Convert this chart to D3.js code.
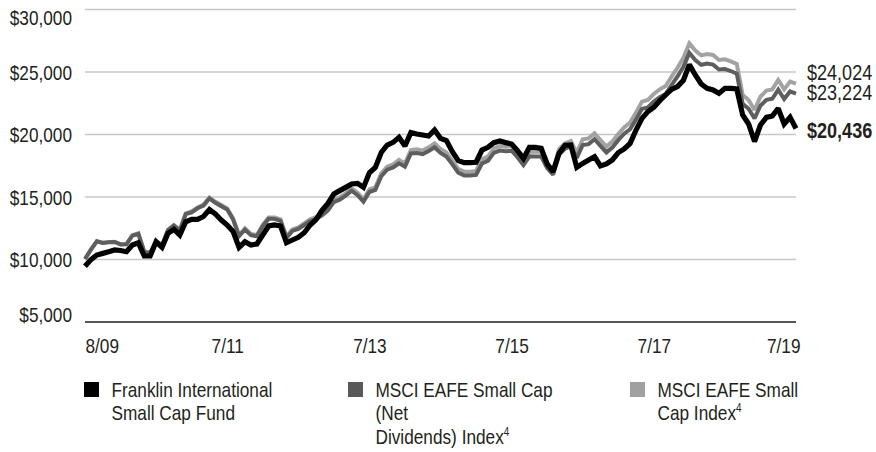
<!DOCTYPE html>
<html>
<head>
<meta charset="utf-8">
<script src="https://cdn.jsdelivr.net/npm/d3@7"></script>
<style>
  body { margin: 0; background: #fff; }
  svg text { font-family: "Liberation Sans", Arial, sans-serif; fill: #231f20; }
</style>
</head>
<body>
<svg width="876" height="452"></svg>
<script>
// growth of $10,000, monthly, 7/31/09 .. 7/31/19
const fund = [9425, 9950, 10320, 10450, 10580, 10720, 10680, 10580, 11120, 11300,
  10240, 10240, 11380, 10930, 12050, 12370, 11920, 12980, 13170, 13170,
  13400, 13950, 13600, 13120, 12720, 12190, 10930, 11380, 11120, 11200,
  11920, 12640, 12720, 12640, 11300, 11520, 11740, 12100, 12720, 13150,
  13900, 14450, 15200, 15470, 15730, 16000, 16050, 15730, 16900, 17330,
  18520, 19120, 19330, 19730, 19040, 20110, 20000, 19920, 19840, 20320,
  19650, 19470, 18590, 17870, 17710, 17710, 17740, 18720, 18930, 19310,
  19440, 19310, 19200, 18670, 18050, 18930, 18930, 18850, 17600, 16990,
  18450, 19100, 19120, 17330, 17650, 17920, 18190, 17440, 17600, 17920,
  18510, 18800, 19250, 20320, 21250, 21790, 22130, 22660, 23120, 23570,
  23790, 24300, 25550, 24720, 24000, 23650, 23520, 23250, 23650, 23650,
  23600, 21520, 20800, 19400, 20720, 21330, 21440, 22050, 20800, 21330,
  20436];

const netIndex = [10000, 10750, 11410, 11290, 11340, 11360, 11170, 11180, 11870, 12020,
  10570, 10470, 11410, 11080, 12300, 12670, 12270, 13590, 13730, 14060,
  14270, 14840, 14490, 14230, 13960, 13160, 11830, 12360, 11910, 11820,
  12620, 13220, 13210, 13050, 11680, 12250, 12410, 12720, 13030, 13210,
  13500, 13890, 14550, 14750, 15070, 15460, 15110, 14590, 15360, 15520,
  16620, 17150, 17320, 17660, 17390, 18440, 18480, 18380, 18630, 18940,
  18490, 18200, 17570, 16900, 16690, 16690, 16730, 17640, 17850, 18490,
  18670, 18620, 18660, 18140, 17510, 18210, 18200, 18200, 17270, 16750,
  18360, 18820, 19000, 18090, 19120, 19190, 19580, 19050, 18530, 18920,
  19510, 20020, 20380, 21160, 22010, 22130, 22590, 22940, 23200, 23920,
  24600, 25380, 26490, 25910, 25540, 25640, 25550, 25160, 25200, 25040,
  24830, 22410, 22020, 21240, 22270, 22730, 22820, 23540, 22800, 23400,
  23224];

const grossIndex = [10000, 10750, 11420, 11300, 11350, 11380, 11190, 11200, 11900, 12050,
  10600, 10500, 11450, 11120, 12350, 12720, 12320, 13650, 13800, 14130,
  14350, 14930, 14580, 14320, 14050, 13250, 11920, 12450, 12000, 11920,
  12720, 13330, 13330, 13170, 11790, 12370, 12530, 12850, 13170, 13350,
  13650, 14050, 14720, 14930, 15250, 15650, 15300, 14780, 15570, 15730,
  16850, 17390, 17570, 17920, 17650, 18720, 18770, 18670, 18930, 19250,
  18800, 18510, 17870, 17200, 16990, 16990, 17040, 17970, 18190, 18850,
  19040, 18990, 19040, 18510, 17870, 18590, 18590, 18590, 17650, 17120,
  18770, 19250, 19440, 18510, 19570, 19650, 20050, 19520, 18990, 19390,
  20000, 20530, 20910, 21710, 22590, 22720, 23200, 23570, 23840, 24590,
  25300, 26100, 27250, 26670, 26290, 26400, 26320, 25920, 25970, 25810,
  25600, 23120, 22720, 21920, 22990, 23470, 23570, 24320, 23570, 24190,
  24024];

const xTickIdx = [0, 24, 48, 72, 96, 120];
const xTickLabels = ['8/09', '7/11', '7/13', '7/15', '7/17', '7/19'];
const yTicks = [5000, 10000, 15000, 20000, 25000, 30000];

const legendLabels = [
  ['Franklin International', 'Small Cap Fund'],
  ['MSCI EAFE Small Cap', '(Net', 'Dividends) Index^4'],
  ['MSCI EAFE Small', 'Cap Index^4']
];
const endLabels = ['$24,024', '$23,224', '$20,436'];

const svg = d3.select('svg');
const left = 85, right = 796;

const x = d3.scaleLinear().domain([0, fund.length - 1]).range([left, right]);
const y = d3.scaleLinear().domain([5000, 30000]).range([321.5, 9]);

// y axis + grid
const yAxis = svg.append('g')
  .attr('transform', `translate(${left},0)`)
  .call(d3.axisLeft(y).tickValues(yTicks)
    .tickFormat(d => '$' + d3.format(',')(d))
    .tickSize(-(right - left)).tickPadding(13));
yAxis.select('.domain').remove();
yAxis.selectAll('.tick line')
  .attr('stroke', d => d === 5000 ? '#231f20' : '#c8c8c8')
  .attr('stroke-width', d => d === 5000 ? 1.6 : 1.3);
yAxis.selectAll('.tick text')
  .style('font-size', '21px')
  .attr('fill', '#231f20')
  .attr('dy', d => d === 30000 ? 15.5 : d === 5000 ? 0 : 7.5);

// x axis labels
const xAxis = svg.append('g')
  .attr('transform', `translate(0,${y(5000)})`)
  .call(d3.axisBottom(x).tickValues(xTickIdx)
    .tickFormat((d, i) => xTickLabels[i]).tickSize(0));
xAxis.select('.domain').remove();
xAxis.selectAll('.tick text')
  .style('font-size', '21px')
  .attr('fill', '#231f20')
  .attr('y', 31.5).attr('dy', 0)
  .attr('text-anchor', (d, i) => i === 0 ? 'start' : i === xTickIdx.length - 1 ? 'end' : 'middle')
  .attr('x', (d, i) => i === xTickIdx.length - 1 ? 4 : 0);

// lines
const line = d3.line().x((d, i) => x(i)).y(d => y(d));
const series = [
  {values: grossIndex, color: '#a3a3a3', w: 4},
  {values: netIndex, color: '#5e5e5e', w: 4},
  {values: fund, color: '#000', w: 5.2}
];
svg.selectAll('path.series')
  .data(series)
  .enter().append('path')
    .attr('class', 'series')
    .attr('fill', 'none')
    .attr('stroke', d => d.color)
    .attr('stroke-width', d => d.w)
    .attr('stroke-linejoin', 'miter')
    .attr('stroke-miterlimit', 2)
    .attr('d', d => line(d.values));

// end value labels
const endVals = [grossIndex, netIndex, fund].map(s => s[s.length - 1]);
const endOffsets = [-3.3, 6.7, 9.5];
svg.selectAll('text.endval')
  .data(endLabels)
  .enter().append('text')
    .attr('class', 'endval')
    .attr('x', 807)
    .attr('y', (d, i) => y(endVals[i]) + endOffsets[i])
    .style('font-size', '22px')
    .style('font-weight', (d, i) => i === 2 ? 'bold' : 'normal')
    .text(d => d);

// legend
const legendX = [84, 348, 630];
const legendColors = ['#000', '#595959', '#a0a0a0'];
const lg = svg.selectAll('g.legend')
  .data(legendLabels)
  .enter().append('g')
    .attr('class', 'legend')
    .attr('transform', (d, i) => `translate(${legendX[i]},382)`);
lg.append('rect')
  .attr('width', 15).attr('height', 15)
  .attr('fill', (d, i) => legendColors[i]);
lg.each(function(lines) {
  const g = d3.select(this);
  lines.forEach((txt, j) => {
    const t = g.append('text')
      .attr('x', 27.5)
      .attr('y', 14.5 + j * 23.5)
      .style('font-size', '21px');
    const parts = txt.split('^');
    t.append('tspan').text(parts[0]);
    if (parts[1]) {
      t.append('tspan').attr('dy', -8).style('font-size', '12px').text(parts[1]);
    }
  });
});

// narrow face not installed: squeeze the glyphs horizontally
svg.selectAll('text').each(function() {
  const w = this.getComputedTextLength();
  d3.select(this).attr('textLength', w * 0.82).attr('lengthAdjust', 'spacingAndGlyphs');
});
</script>
</body>
</html>
